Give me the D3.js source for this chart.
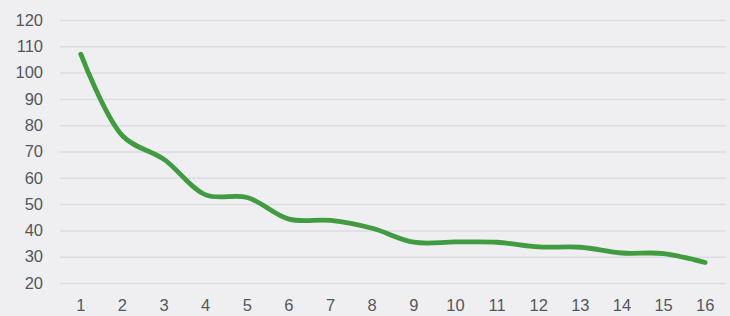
<!DOCTYPE html>
<html>
<head>
<meta charset="utf-8">
<script src="https://cdn.jsdelivr.net/npm/d3@7"></script>
<style>
  html, body { margin: 0; padding: 0; background: #efeff1; }
  svg { display: block; }
  .tick text { font-family: "Liberation Sans", Arial, sans-serif; fill: #53575d; }
</style>
</head>
<body>
<div id="chart"></div>
<script>
// data
var periods = [1, 2, 3, 4, 5, 6, 7, 8, 9, 10, 11, 12, 13, 14, 15, 16];
var values = [107, 76, 67, 53.5, 52.5, 44.3, 43.8, 40.8, 35.5, 35.6, 35.5, 33.7, 33.6, 31.4, 31.2, 27.8];
var yTicks = [20, 30, 40, 50, 60, 70, 80, 90, 100, 110, 120];

var width = 730,
    height = 316,
    margin = {top: 20, right: 4, bottom: 33, left: 60};

var svg = d3.select("#chart").append("svg")
  .attr("width", width)
  .attr("height", height);

svg.append("rect")
  .attr("width", width)
  .attr("height", height)
  .attr("fill", "#efeff1");

var x = d3.scaleBand()
  .domain(periods)
  .range([margin.left, width - margin.right]);

var y = d3.scaleLinear()
  .domain([20, 120])
  .range([height - margin.bottom, margin.top]);

// gridlines + y labels
var yAxis = svg.append("g")
  .attr("transform", "translate(" + margin.left + ",0)")
  .call(d3.axisLeft(y).tickValues(yTicks).tickSize(-(width - margin.left - margin.right)).tickPadding(17));
yAxis.select(".domain").remove();
yAxis.selectAll(".tick line").attr("stroke", "#dcdde1").attr("stroke-width", 1.5);
yAxis.selectAll(".tick text").attr("font-size", 16.5);

// x labels
var xAxis = svg.append("g")
  .attr("transform", "translate(0," + (height - margin.bottom) + ")")
  .call(d3.axisBottom(x).tickSize(0).tickPadding(16));
xAxis.select(".domain").remove();
xAxis.selectAll(".tick text").attr("font-size", 16.5);

var line = d3.line()
  .x(function(d, i) { return x(periods[i]) + x.bandwidth() / 2; })
  .y(function(d) { return y(d); })
  .curve(d3.curveCatmullRom.alpha(0.5));

svg.append("path")
  .datum(values)
  .attr("fill", "none")
  .attr("stroke", "#419b40")
  .attr("stroke-width", 4.8)
  .attr("stroke-linecap", "round")
  .attr("stroke-linejoin", "round")
  .attr("d", line);
</script>
</body>
</html>
